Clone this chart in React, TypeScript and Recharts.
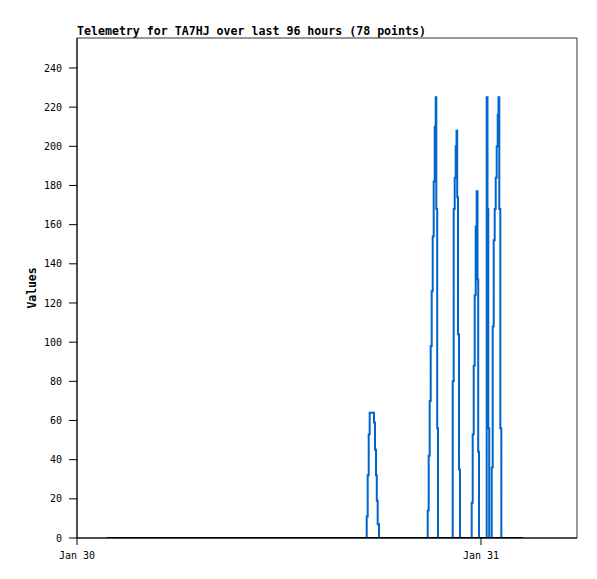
import React from 'react';
import { LineChart, Line, XAxis, YAxis, ReferenceArea, Label } from 'recharts';

// hours since Jan 30 00:00
const hours = [
  1.782, 2.4, 3.05, 4.71, 5.55, 6.36, 7.2, 8.02, 9.69, 11.35, 12.18, 13.01, 14.66, 16.32, 17.05,
  17.21, 17.269, 17.329, 17.388, 17.52, 17.644, 17.703, 17.762, 17.81, 17.863, 17.941,
  19.22, 20.41,
  20.834, 20.893, 20.952, 21.012, 21.071, 21.131, 21.19, 21.25, 21.309, 21.345, 21.398, 21.446,
  22.1,
  22.319, 22.378, 22.438, 22.497, 22.545, 22.586, 22.634, 22.693, 22.752,
  23.15,
  23.447, 23.507, 23.566, 23.626, 23.685, 23.744, 23.792, 23.834, 23.881,
  24.1,
  24.338, 24.386, 24.433, 24.487,
  24.636, 24.695, 24.754, 24.814, 24.873, 24.933, 24.992, 25.04, 25.087, 25.147, 25.206,
  25.85, 26.495,
];

const values = [
  0, 0, 0, 0, 0, 0, 0, 0, 0, 0, 0, 0, 0, 0, 0,
  11, 32, 53, 64, 64, 59, 45, 32, 19, 7, 0,
  0, 0,
  14, 42, 70, 98, 126, 154, 182, 210, 225, 168, 56, 0,
  0,
  80, 168, 184, 200, 208, 174, 104, 35, 0,
  0,
  18, 53, 88, 124, 159, 177, 132, 44, 0,
  0,
  225, 168, 56, 0,
  36, 108, 152, 168, 184, 200, 216, 225, 168, 56, 0,
  0, 0,
];

const baseHours = [1.782, 26.495];
const baseValues = [0, 0];

const yTicks = [0, 20, 40, 60, 80, 100, 120, 140, 160, 180, 200, 220, 240];
const xTicks = [0, 24];
const xTickLabels = ['Jan 30', 'Jan 31'];

const X_MAX = 29.703;
const Y_MAX = 255.3;

const mono = '"DejaVu Sans Mono", monospace';

const series = hours.map((t, i) => ({ t, v: values[i] }));
const baseline = baseHours.map((t, i) => ({ t, v: baseValues[i] }));

export default function App() {
  return (
    <div style={{ position: 'absolute', left: 0, top: 0, width: 597, height: 579, background: '#fff' }}>
      <div
        style={{
          position: 'absolute',
          left: 77,
          top: 24,
          fontFamily: mono,
          fontWeight: 'bold',
          fontSize: 11.6,
          lineHeight: '14px',
          color: '#000',
          whiteSpace: 'nowrap',
        }}
      >
        Telemetry for TA7HJ over last 96 hours (78 points)
      </div>
      <LineChart width={597} height={579} margin={{ top: 38, right: 20, bottom: 11, left: 17 }}>
        <XAxis
          type="number"
          dataKey="t"
          domain={[0, X_MAX]}
          ticks={xTicks}
          tickFormatter={(v: number) => xTickLabels[xTicks.indexOf(v)]}
          allowDataOverflow
          height={30}
          stroke="#000"
          tickSize={7}
          tickMargin={7}
          tick={{ fill: '#000', fontFamily: mono, fontSize: 10 }}
        />
        <YAxis
          type="number"
          dataKey="v"
          domain={[0, Y_MAX]}
          ticks={yTicks}
          allowDataOverflow
          width={60}
          stroke="#000"
          tickSize={8}
          tickMargin={7}
          tick={{ fill: '#000', fontFamily: mono, fontSize: 10 }}
        >
          <Label
            content={({ viewBox }: any) => {
              const x = viewBox.x + 19;
              const y = viewBox.y + viewBox.height / 2;
              return (
                <text
                  x={x}
                  y={y}
                  transform={`rotate(-90 ${x} ${y})`}
                  textAnchor="middle"
                  fontFamily={mono}
                  fontWeight="bold"
                  fontSize={11.4}
                  fill="#000"
                >
                  Values
                </text>
              );
            }}
          />
        </YAxis>
        <ReferenceArea x1={0} x2={X_MAX} y1={0} y2={Y_MAX} fill="none" stroke="#333" strokeWidth={1} />
        <Line
          data={series}
          dataKey="v"
          type="stepAfter"
          stroke="#0066cc"
          strokeWidth={2}
          dot={false}
          isAnimationActive={false}
        />
        <Line
          data={baseline}
          dataKey="v"
          type="linear"
          stroke="#000"
          strokeWidth={2}
          dot={false}
          isAnimationActive={false}
        />
      </LineChart>
    </div>
  );
}
